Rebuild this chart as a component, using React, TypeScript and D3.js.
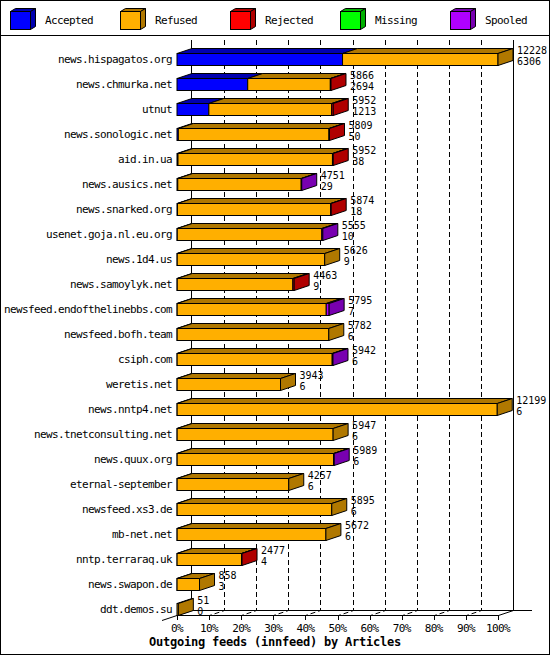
import React from 'react';
import * as d3 from 'd3';

const hosts = [
  'news.hispagatos.org', 'news.chmurka.net', 'utnut', 'news.sonologic.net', 'aid.in.ua',
  'news.ausics.net', 'news.snarked.org', 'usenet.goja.nl.eu.org', 'news.1d4.us', 'news.samoylyk.net',
  'newsfeed.endofthelinebbs.com', 'newsfeed.bofh.team', 'csiph.com', 'weretis.net', 'news.nntp4.net',
  'news.tnetconsulting.net', 'news.quux.org', 'eternal-september', 'newsfeed.xs3.de', 'mb-net.net',
  'nntp.terraraq.uk', 'news.swapon.de', 'ddt.demos.su',
];
const totals = [12228, 5866, 5952, 5809, 5952, 4751, 5874, 5555, 5626, 4463, 5795, 5782, 5942, 3943, 12199, 5947, 5989, 4257, 5895, 5672, 2477, 858, 51];
const accepted = [6306, 2694, 1213, 50, 38, 29, 18, 10, 9, 9, 7, 6, 6, 6, 6, 6, 6, 6, 6, 6, 4, 3, 0];
const rejected = [0, 25, 60, 20, 30, 0, 20, 0, 0, 50, 0, 0, 0, 0, 0, 0, 0, 0, 0, 0, 20, 0, 0];
const missing = [0, 0, 0, 0, 0, 0, 0, 0, 0, 0, 0, 0, 0, 0, 0, 0, 0, 0, 0, 0, 0, 0, 0];
const spooled = [0, 0, 0, 0, 0, 20, 0, 40, 0, 0, 110, 0, 30, 0, 0, 0, 25, 0, 0, 0, 0, 0, 0];
const refused = totals.map((t, i) => t - accepted[i] - rejected[i] - missing[i] - spooled[i]);

const seriesNames = ['Accepted', 'Refused', 'Rejected', 'Missing', 'Spooled'];
const seriesColors = ['#0000FF', '#FFAF00', '#FF0000', '#00FF00', '#AF00FF'];
const shadeColors = ['#0000B0', '#B07800', '#B00000', '#00B000', '#7800B0'];
const percentTicks = [0, 10, 20, 30, 40, 50, 60, 70, 80, 90, 100];
const title = 'Outgoing feeds (innfeed) by Articles';

const W = 550;
const H = 655;
const DX = 15;
const DY = 5;
const FONT = '"DejaVu Sans Mono", "Liberation Mono", monospace';

export default function App() {
  const maxTotal = d3.max(totals) as number;
  const x = d3.scaleLinear().domain([0, maxTotal]).range([177, 498]);
  const xp = d3.scaleLinear().domain([0, 100]).range([177, 498]);
  const y = d3.scaleBand<string>().domain(hosts).range([46.5, 621.5]).padding(0);
  const seriesValues = [accepted, refused, rejected, missing, spooled];

  const frontY = 615;
  const backY = 610;
  const topY = 40;

  const poly = (pts: [number, number][]) => pts.map(p => `${p[0]},${p[1]}`).join(' ');

  const bars = hosts.map((h, i) => {
    const c = (y(h) as number) + y.bandwidth() / 2;
    const y0 = Math.round(c - 6) + 0.5;
    const y1 = Math.round(c + 6) + 0.5;
    let cum = 0;
    const segs: { s: number; a: number; b: number }[] = [];
    seriesValues.forEach((vals, s) => {
      const v = vals[i];
      if (v > 0) {
        segs.push({ s, a: x(cum), b: x(cum + v) });
      }
      cum += v;
    });
    const last = segs[segs.length - 1];
    const xEnd = x(totals[i]);
    return (
      <g key={h}>
        {segs.map((g, k) => (
          <rect key={'f' + k} x={g.a} y={y0} width={Math.max(g.b - g.a, 0)} height={y1 - y0}
            fill={seriesColors[g.s]} stroke="#000" strokeWidth={1} />
        ))}
        {segs.map((g, k) => (
          <polygon key={'t' + k}
            points={poly([[g.a, y0], [g.b, y0], [g.b + DX, y0 - DY], [g.a + DX, y0 - DY]])}
            fill={shadeColors[g.s]} stroke="#000" strokeWidth={1} strokeLinejoin="miter" />
        ))}
        {last && (
          <polygon
            points={poly([[last.b, y0], [last.b + DX, y0 - DY], [last.b + DX, y1 - DY], [last.b, y1]])}
            fill={shadeColors[last.s]} stroke="#000" strokeWidth={1} />
        )}
        <text x={xEnd + DX + 4} y={c - 5} fontFamily={FONT} fontSize={10} fill="#000">{totals[i]}</text>
        <text x={xEnd + DX + 4} y={c + 6} fontFamily={FONT} fontSize={10} fill="#000">{accepted[i]}</text>
        <text x={172} y={c + 4} textAnchor="end" fontFamily={FONT} fontSize={11} letterSpacing={-0.62} fill="#000">{h}</text>
      </g>
    );
  });

  return (
    <div style={{ position: 'absolute', left: 0, top: 0 }}>
      <svg width={W} height={H} viewBox={`0 0 ${W} ${H}`} style={{ display: 'block' }}>
        <rect x={0} y={0} width={W} height={H} fill="#fff" />
        <rect x={0.5} y={0.5} width={W - 1} height={H - 1} fill="none" stroke="#000" />
        <line x1={0} x2={W} y1={35.5} y2={35.5} stroke="#000" />

        {/* legend */}
        {seriesNames.map((n, i) => {
          const lx = 10 + 110 * i;
          const ly = 11;
          const lw = 20;
          const lh = 18;
          return (
            <g key={n}>
              <rect x={lx + 0.5} y={ly + 0.5} width={lw} height={lh} fill={seriesColors[i]} stroke="#000" />
              <polygon points={poly([[lx + 0.5, ly + 0.5], [lx + lw + 0.5, ly + 0.5], [lx + lw + 5.5, ly - 2.5], [lx + 5.5, ly - 2.5]])}
                fill={shadeColors[i]} stroke="#000" />
              <polygon points={poly([[lx + lw + 0.5, ly + 0.5], [lx + lw + 5.5, ly - 2.5], [lx + lw + 5.5, ly + lh - 2.5], [lx + lw + 0.5, ly + lh + 0.5]])}
                fill={shadeColors[i]} stroke="#000" />
              <text x={lx + 35} y={24} fontFamily={FONT} fontSize={11} letterSpacing={-0.62} fill="#000">{n}</text>
            </g>
          );
        })}

        {/* back plane */}
        <line x1={191.5} x2={191.5} y1={topY} y2={backY + 0.5} stroke="#000" />
        <line x1={513.5} x2={513.5} y1={topY} y2={backY + 0.5} stroke="#000" />
        {percentTicks.filter(p => p > 0 && p < 100).map(p => {
          const bx = Math.round(xp(p) + DX) + 0.5;
          const fx = Math.round(xp(p)) + 0.5;
          return (
            <path key={'g' + p} d={`M${bx},${topY} L${bx},${backY + 0.5} L${fx},${frontY + 0.5}`}
              fill="none" stroke="#000" strokeDasharray="5,3" />
          );
        })}
        <line x1={191} x2={532} y1={backY + 0.5} y2={backY + 0.5} stroke="#000" />
        <line x1={162} y1={620.5} x2={192} y2={610.5} stroke="#000" />
        <line x1={177} x2={498.5} y1={frontY + 0.5} y2={frontY + 0.5} stroke="#000" />
        <line x1={498.5} y1={frontY + 0.5} x2={513.5} y2={backY + 0.5} stroke="#000" />
        {percentTicks.map(p => (
          <g key={'t' + p}>
            <line x1={Math.round(xp(p)) + 0.5} x2={Math.round(xp(p)) + 0.5} y1={frontY} y2={620} stroke="#000" />
            <text x={xp(p)} y={632} textAnchor="middle" fontFamily={FONT} fontSize={11} letterSpacing={-0.62} fill="#000">{p + '%'}</text>
          </g>
        ))}

        {bars}

        <text x={W / 2} y={645.5} textAnchor="middle" fontFamily={FONT} fontSize={12} fontWeight="bold" letterSpacing={-0.22} fill="#000">{title}</text>
      </svg>
    </div>
  );
}
